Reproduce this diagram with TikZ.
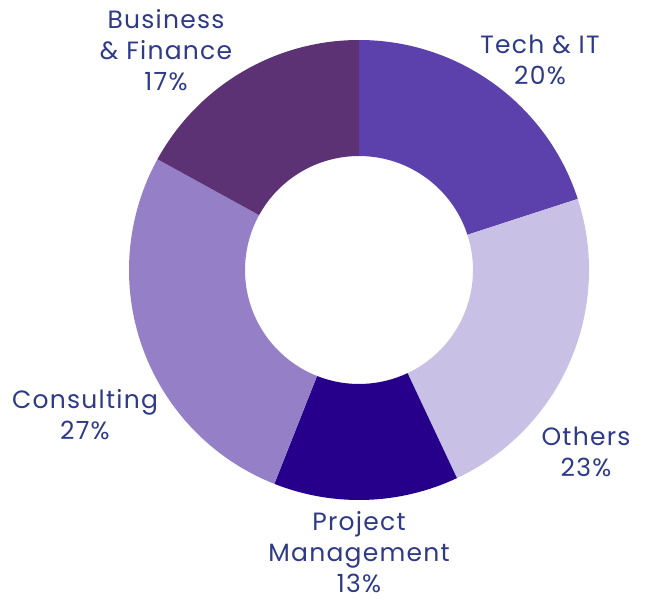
\documentclass[tikz,border=0pt]{standalone}
\usepackage{fontspec}
\setmainfont[LetterSpace=5]{Poppins}
\definecolor{techc}{HTML}{5C40AC}
\definecolor{othc}{HTML}{C8C0E5}
\definecolor{pmc}{HTML}{26008A}
\definecolor{conc}{HTML}{9580C8}
\definecolor{bfc}{HTML}{5C3275}
\definecolor{txtc}{HTML}{2E3A87}
\newcommand{\seg}[3]{%
  \fill[#3] ([shift={(#1:230)}]ctr) arc[start angle=#1,end angle=#2,radius=230]
    -- ([shift={(#2:114)}]ctr) arc[start angle=#2,end angle=#1,radius=114] -- cycle;}
\begin{document}
\begin{tikzpicture}[x=1pt,y=1pt,
  lbl/.style={text=txtc,align=center,font=\fontsize{25}{31}\selectfont,inner sep=0pt}]
\useasboundingbox (0,-600) rectangle (649,0);
\coordinate (ctr) at (359,-270);
\seg{90}{18}{techc}
\seg{18}{-64.8}{othc}
\seg{-64.8}{-111.6}{pmc}
\seg{-111.6}{-208.8}{conc}
\seg{-208.8}{-270}{bfc}
\node[lbl] (bf) at (166,-50) {Business\\\& Finance\\17\%};
\node[lbl] (tech) at (540,-59.5) {Tech \& IT\\20\%};
\node[lbl] (oth) at (586,-451.5) {Others\\23\%};
\node[lbl] (pm) at (359,-552) {Project\\Management\\13\%};
\node[lbl] (con) at (85,-415) {Consulting\\27\%};
\end{tikzpicture}
\end{document}
